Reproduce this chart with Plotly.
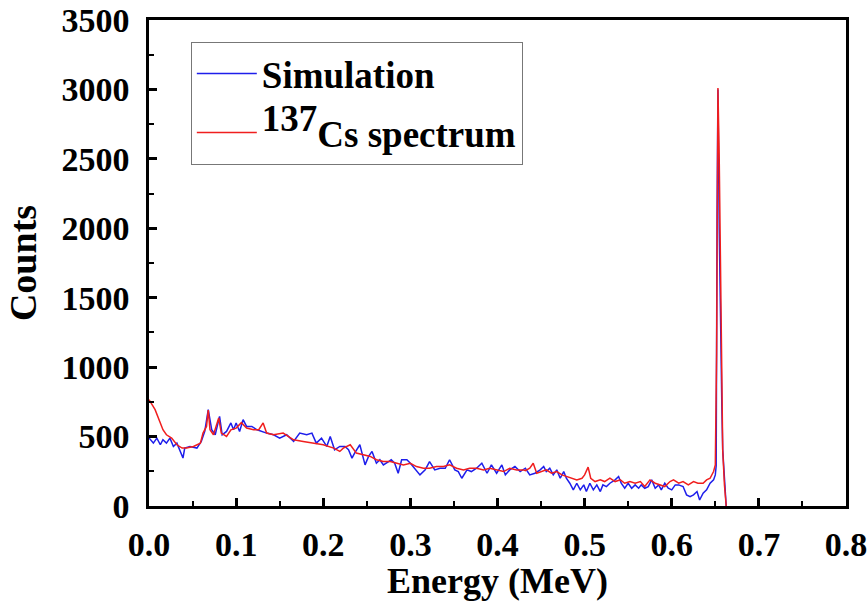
import plotly.graph_objects as go

# ---- Simulation (blue) ----
energy_sim = [0.000, 0.005, 0.009, 0.013, 0.016, 0.020, 0.024, 0.028, 0.032, 0.035,
              0.039, 0.041, 0.047, 0.055, 0.060, 0.064, 0.068, 0.072, 0.076, 0.081,
              0.084, 0.089, 0.094, 0.097, 0.100, 0.104, 0.108, 0.112, 0.118, 0.124,
              0.129, 0.135, 0.143, 0.150, 0.158, 0.166, 0.173, 0.181, 0.187, 0.192,
              0.198, 0.204, 0.208, 0.213, 0.219, 0.225, 0.229, 0.233, 0.236, 0.242,
              0.248, 0.252, 0.256, 0.261, 0.265, 0.269, 0.275, 0.278, 0.282, 0.286,
              0.290, 0.296, 0.300, 0.305, 0.311, 0.317, 0.322, 0.328, 0.334, 0.340,
              0.345, 0.351, 0.355, 0.359, 0.365, 0.370, 0.376, 0.382, 0.388, 0.393,
              0.399, 0.405, 0.409, 0.414, 0.420, 0.426, 0.432, 0.437, 0.443, 0.449,
              0.453, 0.456, 0.460, 0.464, 0.468, 0.472, 0.476, 0.479, 0.483, 0.487,
              0.491, 0.495, 0.499, 0.502, 0.506, 0.510, 0.514, 0.518, 0.521, 0.525,
              0.529, 0.535, 0.539, 0.542, 0.546, 0.550, 0.554, 0.558, 0.562, 0.565,
              0.569, 0.573, 0.577, 0.581, 0.585, 0.588, 0.592, 0.596, 0.600, 0.604,
              0.608, 0.613, 0.617, 0.621, 0.625, 0.629, 0.632, 0.636, 0.640, 0.644,
              0.648, 0.650, 0.651, 0.652, 0.653, 0.6545, 0.6555, 0.657, 0.6575, 0.6585,
              0.6605, 0.6625]
counts_sim = [490, 453, 489, 441, 477, 453, 489, 429, 453, 405,
              345, 417, 429, 417, 465, 537, 694, 549, 513, 646,
              513, 537, 598, 549, 598, 537, 622, 573, 573, 549,
              537, 525, 513, 489, 513, 465, 525, 513, 525, 453,
              489, 429, 501, 405, 429, 429, 405, 345, 381, 441,
              296, 357, 393, 308, 333, 296, 320, 333, 308, 236,
              333, 333, 308, 272, 224, 260, 320, 260, 272, 272,
              333, 260, 248, 200, 260, 248, 272, 308, 236, 296,
              236, 296, 224, 260, 284, 248, 272, 224, 236, 260,
              284, 248, 272, 224, 260, 200, 248, 200, 164, 116,
              164, 116, 152, 104, 164, 116, 152, 104, 152, 140,
              164, 188, 212, 164, 128, 164, 128, 152, 128, 152,
              128, 140, 188, 128, 152, 116, 164, 128, 116, 152,
              152, 140, 80, 67, 80, 104, 43, 92, 116, 164,
              188, 224, 290, 2090, 3000, 2000, 1490, 960, 716, 405,
              150, 0]

# ---- 137Cs measured spectrum (red) ----
energy_exp = [0.000, 0.007, 0.013, 0.016, 0.020, 0.026, 0.032, 0.038, 0.043, 0.051,
              0.059, 0.062, 0.066, 0.068, 0.070, 0.074, 0.080, 0.083, 0.089, 0.094,
              0.100, 0.106, 0.112, 0.120, 0.126, 0.131, 0.135, 0.143, 0.154, 0.166,
              0.177, 0.189, 0.200, 0.212, 0.219, 0.223, 0.231, 0.238, 0.246, 0.254,
              0.261, 0.269, 0.277, 0.284, 0.292, 0.300, 0.307, 0.315, 0.322, 0.330,
              0.338, 0.345, 0.353, 0.361, 0.368, 0.376, 0.384, 0.391, 0.399, 0.407,
              0.414, 0.422, 0.430, 0.432, 0.437, 0.441, 0.445, 0.451, 0.456, 0.462,
              0.468, 0.474, 0.479, 0.485, 0.491, 0.497, 0.500, 0.504, 0.507, 0.512,
              0.518, 0.523, 0.529, 0.535, 0.541, 0.546, 0.552, 0.558, 0.564, 0.569,
              0.575, 0.581, 0.586, 0.592, 0.598, 0.602, 0.608, 0.613, 0.619, 0.625,
              0.630, 0.636, 0.640, 0.644, 0.648, 0.650, 0.6515, 0.653, 0.6545, 0.6565,
              0.6585, 0.6605, 0.6625]
counts_exp = [766, 694, 598, 549, 513, 489, 441, 417, 417, 429,
              453, 525, 573, 690, 549, 513, 634, 525, 501, 549,
              561, 600, 561, 549, 549, 598, 525, 513, 525, 477,
              465, 453, 441, 417, 393, 417, 441, 381, 369, 357,
              333, 320, 320, 308, 296, 308, 284, 272, 272, 284,
              284, 296, 272, 260, 272, 272, 260, 272, 260, 248,
              272, 260, 260, 255, 272, 308, 236, 248, 260, 236,
              248, 224, 212, 200, 188, 200, 224, 280, 200, 176,
              188, 176, 200, 176, 188, 164, 176, 164, 176, 140,
              188, 164, 152, 140, 176, 188, 164, 176, 152, 176,
              164, 164, 188, 200, 248, 296, 1100, 3010, 2500, 1200,
              400, 150, 0]

x_ticks = [0.0, 0.1, 0.2, 0.3, 0.4, 0.5, 0.6, 0.7, 0.8]
y_ticks = [0, 500, 1000, 1500, 2000, 2500, 3000, 3500]

FONT = "Liberation Serif"

fig = go.Figure()
fig.add_trace(go.Scatter(x=energy_sim, y=counts_sim, mode="lines", name="Simulation",
                         legendgroup="a",
                         line=dict(color="rgb(30,30,235)", width=1.5)))
fig.add_trace(go.Scatter(x=energy_exp, y=counts_exp, mode="lines",
                         legendgroup="b",
                         name="<sup><span style='font-size:37px'>137</span></sup>Cs spectrum",
                         line=dict(color="rgb(240,30,30)", width=1.5)))

axis_common = dict(showline=True, linecolor="black", linewidth=2.5, mirror=True,
                   showgrid=False, zeroline=False, ticks="inside", ticklen=8,
                   tickwidth=2.5, tickcolor="black", automargin=False,
                   tickfont=dict(family=FONT, size=34, color="black", weight="bold"))

fig.update_xaxes(range=[0, 0.8], tickvals=x_ticks,
                 ticktext=[f"{v:.1f}" for v in x_ticks],
                 ticklabeloverflow="allow",
                 minor=dict(dtick=0.05, tick0=0, ticks="inside", ticklen=5,
                            tickwidth=2, tickcolor="black"),
                 title=dict(text="Energy (MeV)", standoff=6,
                            font=dict(family=FONT, size=36, color="black", weight="bold")),
                 ticklabelstandoff=6,
                 **axis_common)
fig.update_yaxes(range=[0, 3500], tickvals=y_ticks,
                 ticklabeloverflow="allow",
                 minor=dict(dtick=250, tick0=0, ticks="inside", ticklen=5,
                            tickwidth=2, tickcolor="black"),
                 title=dict(text="Counts", standoff=14,
                            font=dict(family=FONT, size=38, color="black", weight="bold")),
                 ticklabelstandoff=10,
                 **axis_common)

fig.update_layout(
    width=867, height=601,
    margin=dict(l=149, r=21, t=20, b=95, autoexpand=False),
    paper_bgcolor="white", plot_bgcolor="white",
    showlegend=True,
    legend=dict(x=0.06, y=0.955, xanchor="left", yanchor="top",
                bordercolor="#777777", borderwidth=1, bgcolor="rgba(255,255,255,0)",
                font=dict(family=FONT, size=37, color="black", weight="bold"),
                itemwidth=60, tracegroupgap=8),
)

fig.write_html("out.html", config={"displayModeBar": False},
               post_script="document.body.style.margin='0';document.body.style.padding='0';document.body.style.overflow='hidden';")
